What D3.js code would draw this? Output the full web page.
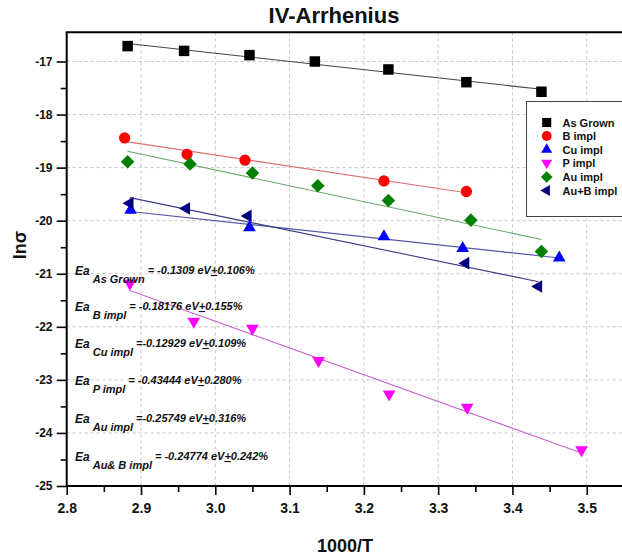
<!DOCTYPE html>
<html><head><meta charset="utf-8">
<script src="https://cdn.jsdelivr.net/npm/d3@7"></script>
<style>body{margin:0;background:#fff;} svg{display:block;font-family:"Liberation Sans",Arial,sans-serif;}</style>
</head><body><svg id="c" width="622" height="559"></svg>
<script>
// ---- data ----
const seriesNames = ["As Grown", "B impl", "Cu impl", "P impl", "Au impl", "Au+B impl"];
const asGrownX = [2.882, 2.958, 3.046, 3.134, 3.233, 3.338, 3.439];
const asGrownY = [-16.71, -16.80, -16.88, -17.00, -17.15, -17.39, -17.57];
const bImplX = [2.878, 2.962, 3.040, 3.227, 3.338];
const bImplY = [-18.44, -18.75, -18.86, -19.25, -19.45];
const cuImplX = [2.886, 3.046, 3.227, 3.333, 3.463];
const cuImplY = [-19.80, -20.13, -20.30, -20.52, -20.70];
const pImplX = [2.885, 2.971, 3.050, 3.139, 3.234, 3.339, 3.493];
const pImplY = [-21.18, -21.90, -22.03, -22.64, -23.27, -23.52, -24.32];
const auImplX = [2.882, 2.966, 3.050, 3.138, 3.233, 3.344, 3.439];
const auImplY = [-18.89, -18.93, -19.10, -19.34, -19.62, -19.99, -20.58];
const auBImplX = [2.885, 2.961, 3.044, 3.337, 3.435];
const auBImplY = [-19.67, -19.77, -19.91, -20.80, -21.24];
const xTicks = [2.8, 2.9, 3.0, 3.1, 3.2, 3.3, 3.4, 3.5];
const yTicks = [-17, -18, -19, -20, -21, -22, -23, -24, -25];
const eaLabels = ["As Grown", "B impl", "Cu impl", "P impl", "Au impl", "Au& B impl"];
const eaValues = ["= -0.1309", "= -0.18176", "=-0.12929", "= -0.43444", "=-0.25749", "= -0.24774"];
const eaErrors = ["0.106%", "0.155%", "0.109%", "0.280%", "0.316%", "0.242%"];

// ---- styling ----
const markerColors = ["#000000", "#ff0000", "#0000ff", "#ff00ff", "#008000", "#000080"];
const lineColors = ["#444444", "#e07070", "#5555aa", "#cc66cc", "#6aaa6a", "#3c3c88"];
const seriesX = [asGrownX, bImplX, cuImplX, pImplX, auImplX, auBImplX];
const seriesY = [asGrownY, bImplY, cuImplY, pImplY, auImplY, auBImplY];

const svg = d3.select("#c");
const x = d3.scaleLinear().domain([2.8, 3.55]).range([66.7, 623.9]);
const y = d3.scaleLinear().domain([-25, -17]).range([486, 61.5]);
const plotTop = y(-16.45), plotBottom = 486, plotLeft = 66.7, plotRight = 622;

// grid
const g = svg.append("g");
g.selectAll(".gx").data(xTicks.slice(1)).join("line")
  .attr("x1", d => x(d)).attr("x2", d => x(d)).attr("y1", plotTop).attr("y2", plotBottom)
  .attr("stroke", "#c4c4c4").attr("stroke-width", 1).attr("stroke-dasharray", "3,3");
g.selectAll(".gy").data(yTicks.slice(0, -1)).join("line")
  .attr("x1", plotLeft).attr("x2", plotRight).attr("y1", d => y(d)).attr("y2", d => y(d))
  .attr("stroke", "#c4c4c4").attr("stroke-width", 1).attr("stroke-dasharray", "3,3");

// symbols
function sym(i, scale) {
  const s = scale || 1;
  if (i === 0) return {path: d3.symbol().type(d3.symbolSquare).size(110 * s)(), rot: 0};
  if (i === 1) return {path: d3.symbol().type(d3.symbolCircle).size(100 * s)(), rot: 0};
  if (i === 2) return {path: d3.symbol().type(d3.symbolTriangle).size(70 * s)(), rot: 0};
  if (i === 3) return {path: d3.symbol().type(d3.symbolTriangle).size(70 * s)(), rot: 180};
  if (i === 4) return {path: d3.symbol().type(d3.symbolSquare).size(92 * s)(), rot: 45};
  return {path: d3.symbol().type(d3.symbolTriangle).size(70 * s)(), rot: -90};
}

// fit lines
seriesX.forEach((xs, i) => {
  const ys = seriesY[i];
  const mx = d3.mean(xs), my = d3.mean(ys);
  const b = d3.sum(xs.map((v, k) => (v - mx) * (ys[k] - my))) / d3.sum(xs.map(v => (v - mx) ** 2));
  const a = my - b * mx;
  const x0 = d3.min(xs), x1 = d3.max(xs);
  svg.append("line").attr("x1", x(x0)).attr("y1", y(a + b * x0)).attr("x2", x(x1)).attr("y2", y(a + b * x1))
    .attr("stroke", lineColors[i]).attr("stroke-width", 1.1);
});

// points
seriesX.forEach((xs, i) => {
  const s = sym(i);
  svg.append("g").selectAll("path").data(xs.map((v, k) => [v, seriesY[i][k]])).join("path")
    .attr("d", s.path)
    .attr("transform", d => `translate(${x(d[0])},${y(d[1])}) rotate(${s.rot})`)
    .attr("fill", markerColors[i]);
});

// annotations
const eaBase = [275, 311, 348, 385, 423, 461];
eaLabels.forEach((lab, i) => {
  const t = svg.append("text").attr("x", 75).attr("y", eaBase[i])
    .attr("font-weight", "bold").attr("font-style", "italic").attr("fill", "#111");
  t.append("tspan").attr("font-size", 12).text("Ea");
  t.append("tspan").attr("font-size", 11).attr("dx", 3).attr("dy", 8).text(lab);
  t.append("tspan").attr("font-size", 11).attr("dx", 3).attr("dy", -9).text(eaValues[i] + " eV");
  t.append("tspan").attr("font-size", 11).attr("text-decoration", "underline").text("+");
  t.append("tspan").attr("font-size", 11).text(eaErrors[i]);
});

// legend
svg.append("rect").attr("x", 526.5).attr("y", 101.5).attr("width", 110).attr("height", 115)
  .attr("fill", "#fff").attr("stroke", "#444").attr("stroke-width", 1);
const legY = [122.5, 136, 149.5, 163, 177, 190.5];
seriesNames.forEach((n, i) => {
  const s = sym(i, 0.75);
  svg.append("path").attr("d", s.path).attr("transform", `translate(546.7,${legY[i]}) rotate(${s.rot})`)
    .attr("fill", markerColors[i]);
  svg.append("text").attr("x", 562.5).attr("y", legY[i] + 4).attr("font-size", 11).attr("font-weight", "bold")
    .attr("fill", "#111").text(n);
});

// axes
const xAxis = svg.append("g").attr("transform", `translate(0,${plotBottom})`)
  .call(d3.axisBottom(x).tickValues(xTicks).tickFormat(d3.format(".1f")).tickSize(9).tickSizeOuter(0));
svg.append("g").attr("transform", `translate(0,${plotBottom})`)
  .call(d3.axisBottom(x).tickValues(d3.range(2.85, 3.5, 0.1)).tickFormat("").tickSize(6).tickSizeOuter(0));
const yAxis = svg.append("g").attr("transform", `translate(${plotLeft},0)`)
  .call(d3.axisLeft(y).tickValues(yTicks).tickFormat(d => String(d)).tickSize(10).tickSizeOuter(0));
svg.append("g").attr("transform", `translate(${plotLeft},0)`)
  .call(d3.axisLeft(y).tickValues(d3.range(-17.5, -25, -1)).tickFormat("").tickSize(6).tickSizeOuter(0));
svg.selectAll(".domain").remove();
svg.selectAll(".tick line").attr("stroke", "#000").attr("stroke-width", 1.6);
xAxis.selectAll("text").attr("font-size", 14).attr("font-weight", "bold").attr("fill", "#111").attr("dy", "1.05em");
yAxis.selectAll("text").attr("font-size", 12).attr("font-weight", "bold").attr("fill", "#111").attr("dx", "-0.1em");
svg.append("line").attr("x1", plotLeft).attr("x2", 622).attr("y1", plotBottom).attr("y2", plotBottom).attr("stroke", "#000").attr("stroke-width", 2);
svg.append("line").attr("x1", plotLeft).attr("x2", plotLeft).attr("y1", plotTop).attr("y2", plotBottom).attr("stroke", "#000").attr("stroke-width", 2);
svg.append("line").attr("x1", plotLeft - 1).attr("x2", 622).attr("y1", plotTop).attr("y2", plotTop).attr("stroke", "#000").attr("stroke-width", 2);

// titles
svg.append("text").attr("x", 334).attr("y", 23).attr("text-anchor", "middle").attr("font-size", 22)
  .attr("font-weight", "bold").attr("fill", "#111").text("IV-Arrhenius");
svg.append("text").attr("x", 345).attr("y", 552).attr("text-anchor", "middle").attr("font-size", 18)
  .attr("font-weight", "bold").attr("fill", "#111").text("1000/T");
svg.append("text").attr("transform", "translate(26,245) rotate(-90)").attr("text-anchor", "middle").attr("font-size", 18)
  .attr("font-weight", "bold").attr("fill", "#111").text("lnσ");
</script></body></html>
